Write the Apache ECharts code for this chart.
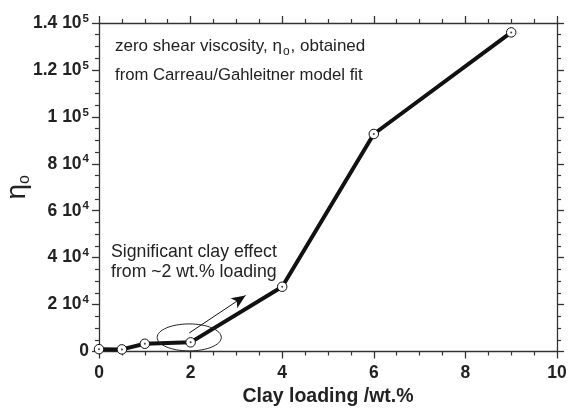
<!DOCTYPE html>
<html>
<head>
<meta charset="utf-8">
<script src="https://cdn.jsdelivr.net/npm/echarts@6/dist/echarts.min.js"></script>
<style>
html,body{margin:0;padding:0;background:#fff;}
#c{width:570px;height:408px;}
</style>
</head>
<body>
<div id="c"></div>
<script>
var clayLoading = [0, 0.5, 1, 2, 4, 6, 9];
var eta0 = [1000, 900, 3300, 3900, 27600, 92700, 136000];
var xTicks = [0, 2, 4, 6, 8, 10];
var yTickLabels = {0:'0', 20000:'2 10|4', 40000:'4 10|4', 60000:'6 10|4', 80000:'8 10|4', 100000:'1 10|5', 120000:'1.2 10|5', 140000:'1.4 10|5'};
var noteTop = ['zero shear viscosity, η', 'o', ', obtained', 'from Carreau/Gahleitner model fit'];
var noteBottom = ['Significant clay effect', 'from ~2 wt.% loading'];
var ellipseData = {cx: 1.97, cy: 6000, rx: 0.7, ry: 5750};
var arrowData = [[1.97, 7900], [3.2, 23900]];

var FONT = '"Liberation Sans", Arial, sans-serif';
var axisColor = '#333';
var pts = clayLoading.map(function(x, i){ return [x, eta0[i]]; });

function yFmt(v){
  var s = yTickLabels[v];
  if (s === undefined) return '';
  if (s.indexOf('|') < 0) return '{b|' + s + '}';
  var p = s.split('|');
  return '{b|' + p[0] + '}{sup|' + p[1] + '}';
}

var chart = echarts.init(document.getElementById('c'), null, {renderer:'canvas'});
function axisCommon(){
  return {
    axisLine: {show: true, onZero: false, lineStyle: {color: axisColor, width: 1.3}},
    axisTick: {show: true, inside: false, length: 7, lineStyle: {color: axisColor, width: 1.3}},
    minorTick: {show: true, splitNumber: 4, length: 4, lineStyle: {color: axisColor, width: 1.2}},
    splitLine: {show: false},
    minorSplitLine: {show: false}
  };
}
chart.setOption({
  animation: false,
  backgroundColor: '#fff',
  grid: {left: 99, right: 13, top: 23, bottom: 56.5, containLabel: false, outerBoundsMode: 'none'},
  xAxis: [
    Object.assign({
      type: 'value', min: 0, max: 10, interval: 2, position: 'bottom',
      name: 'Clay loading /wt.%', nameLocation: 'middle', nameGap: 35, nameMoveOverlap: false,
      nameTextStyle: {fontFamily: FONT, fontWeight: 'bold', fontSize: 19.5, color: '#222'},
      axisLabel: {fontFamily: FONT, fontWeight: 'bold', fontSize: 17.5, color: '#222', margin: 13}
    }, axisCommon()),
    Object.assign({
      type: 'value', min: 0, max: 10, interval: 2, position: 'top',
      axisLabel: {show: false}
    }, axisCommon())
  ],
  yAxis: [
    Object.assign({
      type: 'value', min: 0, max: 140000, interval: 20000, position: 'left',
      name: '{a|η}{s|o}', nameLocation: 'middle', nameGap: 66, nameRotate: 90, nameMoveOverlap: false,
      nameTextStyle: {rich: {
        a: {fontFamily: FONT, fontSize: 28, color: '#222'},
        s: {fontFamily: FONT, fontSize: 16, color: '#222', padding: [16, 0, 0, 0]}
      }},
      axisLabel: {formatter: yFmt, margin: 10, rich: {
        b: {fontFamily: FONT, fontWeight: 'bold', fontSize: 17.5, color: '#222'},
        sup: {fontFamily: FONT, fontWeight: 'bold', fontSize: 11.5, color: '#222', padding: [0, 0, 9, 1]}
      }}
    }, axisCommon()),
    Object.assign({
      type: 'value', min: 0, max: 140000, interval: 20000, position: 'right',
      axisLabel: {show: false}
    }, axisCommon())
  ],
  series: [
    {
      type: 'line', data: pts, xAxisIndex: 0, yAxisIndex: 0,
      lineStyle: {color: '#111', width: 4},
      symbol: 'circle', symbolSize: 9.5, showAllSymbol: true,
      itemStyle: {color: '#fff', borderColor: '#111', borderWidth: 1},
      z: 3,
      markLine: {
        silent: true, symbol: ['none', 'arrow'], symbolSize: [9, 14],
        lineStyle: {color: '#111', width: 1, type: 'solid'},
        label: {show: false},
        data: [[{coord: arrowData[0]}, {coord: arrowData[1]}]]
      }
    },
    {
      type: 'scatter', data: pts, symbolSize: 2,
      itemStyle: {color: '#111'}, z: 5, silent: true
    }
  ]
});

function drawGraphics(){
  var c = chart.convertToPixel({gridIndex: 0}, [ellipseData.cx, ellipseData.cy]);
  var e = chart.convertToPixel({gridIndex: 0}, [ellipseData.cx + ellipseData.rx, ellipseData.cy + ellipseData.ry]);
  var rx = Math.abs(e[0] - c[0]), ry = Math.abs(c[1] - e[1]);
  chart.setOption({
    graphic: [
      {type: 'ellipse', shape: {cx: c[0], cy: c[1], rx: rx, ry: ry},
       style: {fill: 'none', stroke: '#222', lineWidth: 1}, z: 10},
      {type: 'text', left: 115, top: 38, style: {
        text: '{n|' + noteTop[0] + '}{s|' + noteTop[1] + '}{n|' + noteTop[2] + '}',
        rich: {n: {fontFamily: FONT, fontSize: 17, fill: '#222'}, s: {fontFamily: FONT, fontSize: 12, fill: '#222', padding: [11, 1, 0, 1]}}
      }, z: 10},
      {type: 'text', left: 115, top: 67, style: {
        text: noteTop[3], font: '16.7px ' + FONT, fill: '#222'
      }, z: 10},
      {type: 'text', left: 111, top: 243, style: {
        text: noteBottom[0], font: '17.7px ' + FONT, fill: '#222'
      }, z: 10},
      {type: 'text', left: 111, top: 263, style: {
        text: noteBottom[1], font: '17.7px ' + FONT, fill: '#222'
      }, z: 10}
    ]
  });
}
drawGraphics();
</script>
</body>
</html>
